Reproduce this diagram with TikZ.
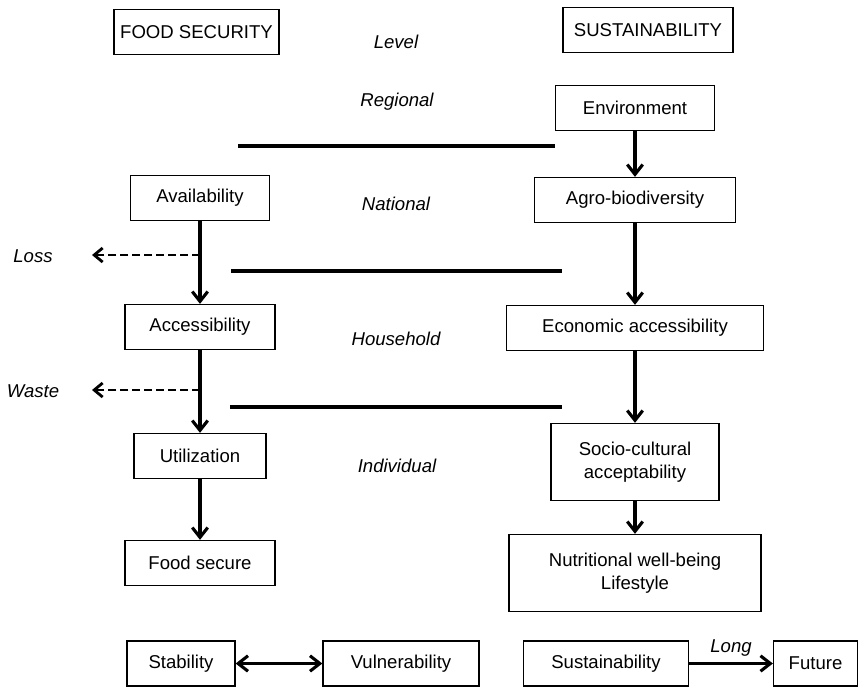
\documentclass[tikz,border=0pt]{standalone}
\usepackage{fontspec}
\setmainfont{Liberation Sans}
\usetikzlibrary{positioning,arrows.meta}

\begin{document}
\begin{tikzpicture}[
x=0.025cm,
y=-0.025cm,
font=\fontsize{13.2}{16.5}\selectfont,
box/.style={
draw,
line width=0.9pt,
inner sep=0pt,
minimum height=1.125cm,
align=center
},
tallbox/.style={
box,
minimum height=1.925cm
},
level/.style={
font=\fontsize{13.2}{16.5}\selectfont\itshape
},
arrow/.style={
-{Straight Barb[length=7pt,width=11pt,line width=2.2pt]},
line width=2.2pt
},
bothways/.style={
arrow,
{Straight Barb[length=7pt,width=11pt,line width=2.2pt]}-{Straight Barb[length=7pt,width=11pt,line width=2.2pt]}
},
dasharrow/.style={
-{Straight Barb[length=6pt,width=10pt,line width=2pt]},
line width=2pt,
dash pattern=on 6pt off 2.5pt
},
sepline/.style={
line width=3.2pt
}
]

\useasboundingbox (0,0) rectangle (858,687);

% Headings
\node[box,minimum width=4.125cm] (fs) at (196.5,32) {FOOD SECURITY};
\node[box,minimum width=4.25cm] (sus) at (648,30) {SUSTAINABILITY};
\node[level] (lvl) at (396,42) {Level};


% Levels
\node[level] (reg) at (397,102) {Regional};
\node[level] (nat) at (396,204) {National};
\node[level] (hh) at (396,339) {Household};
\node[level] (ind) at (397,466) {Individual};


% Food security chain
\node[box,minimum width=3.475cm] (avail) at (200,198) {Availability};
\node[box,minimum width=3.75cm] (access) at (200,327) {Accessibility};
\node[box,minimum width=3.3cm] (util) at (200,456) {Utilization};
\node[box,minimum width=3.75cm] (secure) at (200,563) {Food secure};

\node[level] (loss) at (33,256) {Loss};
\node[level] (waste) at (33,391) {Waste};


% Sustainability chain
\node[box,minimum width=3.975cm] (env) at (635,108) {Environment};
\node[box,minimum width=5.025cm] (agro) at (635,200) {Agro-biodiversity};
\node[box,minimum width=6.425cm] (econ) at (635,328) {Economic accessibility};
\node[tallbox,minimum width=4.2cm] (socio) at (635,462)
{
Socio-cultural\\
acceptability
};
\node[tallbox,minimum width=6.3cm] (nutri) at (635,573)
{
Nutritional well-being\\
Lifestyle
};


% Bottom row
\node[box,minimum width=2.7cm] (stab) at (181,663.5) {Stability};
\node[box,minimum width=3.9cm] (vuln) at (401,663.5) {Vulnerability};
\node[box,minimum width=4.125cm] (susb) at (606,663.5) {Sustainability};
\node[box,minimum width=2.1cm] (fut) at (815.5,663.5) {Future};


% arrows
\draw[arrow] (avail)--(access);
\draw[arrow] (access)--(util);
\draw[arrow] (util)--(secure);

\draw[arrow] (env)--(agro);
\draw[arrow] (agro)--(econ);
\draw[arrow] (econ)--(socio);
\draw[arrow] (socio)--(nutri);

\draw[bothways] (stab)--(vuln);
\draw[arrow] (susb)--(fut) node[level,midway,above=1pt] {Long};


% losses
\coordinate (lossfrom) at (200,255);
\coordinate (lossto) at (92,255);
\coordinate (wastefrom) at (200,390);
\coordinate (wasteto) at (92,390);
\draw[dasharrow] (lossfrom)--(lossto);
\draw[dasharrow] (wastefrom)--(wasteto);


% separators
\coordinate (s1a) at (238,146);
\coordinate (s1b) at (555,146);
\coordinate (s2a) at (231,271);
\coordinate (s2b) at (562,271);
\coordinate (s3a) at (230,407);
\coordinate (s3b) at (562,407);
\draw[sepline] (s1a)--(s1b);
\draw[sepline] (s2a)--(s2b);
\draw[sepline] (s3a)--(s3b);

\end{tikzpicture}
\end{document}
